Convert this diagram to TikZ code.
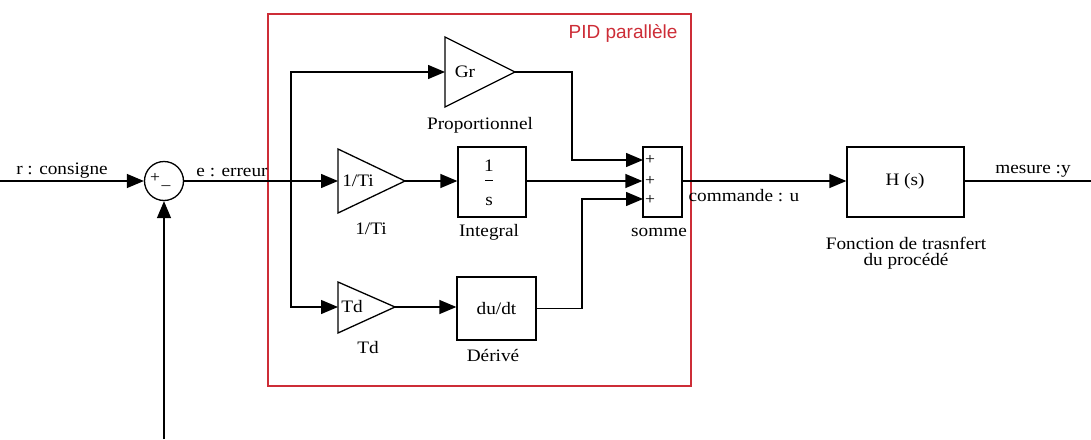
\documentclass[tikz,border=0pt]{standalone}
\usepackage{fontspec}
\setmainfont{Liberation Serif}[FakeStretch=1.1]
\newfontfamily\pidfont{Liberation Sans}
\usetikzlibrary{arrows.meta}
\definecolor{pidred}{RGB}{205,45,55}
\begin{document}
\begin{tikzpicture}[x=1pt,y=-1pt,
  wire/.style={draw=black,line width=1.3pt},
  arr/.style={wire,-{Triangle[length=17pt,width=14pt]}},
  blk/.style={draw=black,line width=1.3pt,inner sep=0pt,font=\fontsize{17.5}{17.5}\selectfont},
  lbl/.style={font=\fontsize{17.5}{17.5}\selectfont,inner sep=0pt},
  sml/.style={font=\fontsize{16}{16}\selectfont,inner sep=0pt}]
\useasboundingbox (0,0) rectangle (1091,439);
% PID frame
\node[draw=pidred,line width=1.6pt,minimum width=423pt,minimum height=372pt,anchor=north west,inner sep=0pt] (pid) at (267,13) {};
\node[font=\pidfont\fontsize{19}{19}\selectfont,text=pidred,inner sep=0pt] (pidlbl) at (623,33) {PID parallèle};
% summing junction
\node[circle,draw=black,line width=1.3pt,minimum size=39pt,inner sep=0pt] (sum) at (164,181) {};
\node[sml] (plus) at (155,178) {+};
\node[sml] (minus) at (166,186) {\_};
\coordinate (rin) at (0,181);
\coordinate (fb) at (164,439);
\coordinate (br) at (291,181);
\draw[arr] (rin) -- (sum.west);
\draw[arr] (fb) -- (sum.south);
\draw[wire] (sum.east) -- (br);
\fill (br) circle (1.6pt);
\node[lbl] (rlbl) at (62,171) {r : consigne};
\node[lbl] (elbl) at (232,172) {e : erreur};
% gains (triangles)
\coordinate (grin) at (445,72);  \coordinate (grout) at (515,72);
\draw[line width=1.3pt] (445,37) -- (grout) -- (445,107) -- cycle;
\coordinate (tiin) at (338,181); \coordinate (tiout) at (405,181);
\draw[line width=1.3pt] (338,149) -- (tiout) -- (338,213) -- cycle;
\coordinate (tdin) at (338,307); \coordinate (tdout) at (395,307);
\draw[line width=1.3pt] (338,282) -- (tdout) -- (338,333) -- cycle;
\node[lbl] (grtxt) at (465,72) {Gr};
\node[lbl] (titxt) at (358,181) {1/Ti};
\node[lbl] (tdtxt) at (352,307) {Td};
\node[lbl] (plbl) at (480,125) {Proportionnel};
\node[lbl] (tilbl) at (371,229) {1/Ti};
\node[lbl] (tdlbl) at (368,348) {Td};
% blocks
\node[blk,minimum width=68pt,minimum height=70pt] (int) at (492,182) {};
\node[lbl] (one) at (489,166) {1};
\draw[line width=1pt] (485,180) -- (493,180);
\node[lbl] (ess) at (489,201) {s};
\node[lbl] (intlbl) at (489,232) {Integral};
\node[blk,minimum width=79pt,minimum height=63pt] (der) at (496.5,308.5) {du/dt};
\node[lbl] (derlbl) at (493,355) {Dérivé};
\node[blk,minimum width=39pt,minimum height=70pt] (smb) at (662.5,182) {};
\node[sml] (p1) at (650,160) {+};
\node[sml] (p2) at (650,181) {+};
\node[sml] (p3) at (650,200) {+};
\node[lbl] (smblbl) at (659,232) {somme};
\node[blk,minimum width=117pt,minimum height=70pt] (H) at (905.5,182) {};
\node[lbl] (Htxt) at (905,181) {H (s)};
\node[lbl,align=center] (Hlbl) at (906,253) {Fonction de trasnfert\\[-1pt]du procédé};
% connectors
\coordinate (s1) at (643,160);
\coordinate (s3) at (643,199);
\coordinate (gc) at (572,160);
\coordinate (dc) at (582,199);
\coordinate (yout) at (1091,181);
\draw[arr] (br) |- (grin);
\draw[arr] (br) -- (tiin);
\draw[arr] (br) |- (tdin);
\draw[arr] (tiout) -- (tiout -| int.west);
\draw[arr] (tdout) -- (tdout -| der.west);
\draw[arr] (grout) -| (gc) -- (s1);
\draw[arr] (int.east |- br) -- (br -| smb.west);
\draw[arr] (der.east) -| (dc) -- (s3);
\draw[arr] (br -| smb.east) -- (br -| H.west);
\draw[wire] (br -| H.east) -- (yout);
\node[lbl] (ulbl) at (744,196) {commande : u};
\node[lbl] (ylbl) at (1033,171) {mesure :y};
\end{tikzpicture}
\end{document}
